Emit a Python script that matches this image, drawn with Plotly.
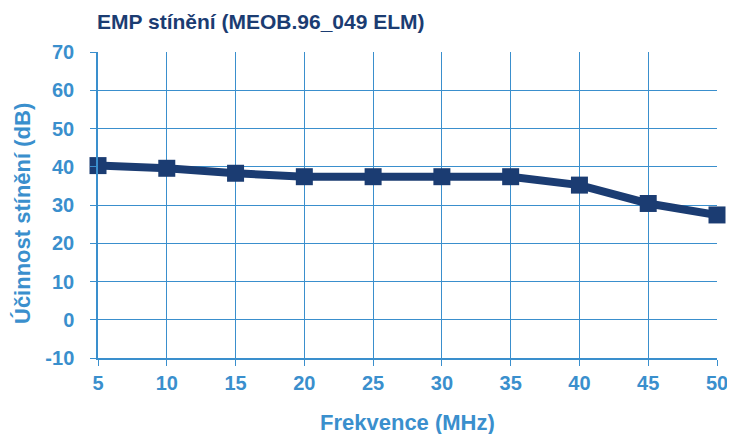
import plotly.graph_objects as go

frequency_mhz = [5, 10, 15, 20, 25, 30, 35, 40, 45, 50]
shielding_db = [40.3, 39.6, 38.3, 37.4, 37.4, 37.4, 37.4, 35.2, 30.4, 27.4]

x_ticks = [5, 10, 15, 20, 25, 30, 35, 40, 45, 50]
y_ticks = [-10, 0, 10, 20, 30, 40, 50, 60, 70]

navy = '#1b3c72'
light_blue = '#3a8fcd'
font_family = '"Liberation Sans", Arial, sans-serif'

# the page body has an 8px margin, so the figure is drawn 8px smaller
fig_w, fig_h = 727, 426
plot_h = 306

fig = go.Figure()
fig.add_trace(go.Scatter(
    x=frequency_mhz, y=shielding_db,
    mode='lines+markers',
    line=dict(color=navy, width=8),
    marker=dict(symbol='square', size=17, color=navy),
    cliponaxis=False,
    showlegend=False
))

fig.update_layout(
    width=fig_w, height=fig_h,
    margin=dict(l=90, r=18, t=44, b=76, autoexpand=False),
    paper_bgcolor='white',
    plot_bgcolor='white',
    font=dict(family=font_family, color=light_blue),
    title=dict(text='<b>EMP stínění (MEOB.96_049 ELM)</b>', x=89 / fig_w, xanchor='left',
               y=1 - 14 / fig_h, yanchor='middle',
               font=dict(size=21, color=navy, family=font_family)),
    annotations=[
        dict(text='<b>Frekvence (MHz)</b>', xref='paper', yref='paper',
             x=0.5, y=-64 / plot_h, xanchor='center', yanchor='middle', showarrow=False,
             font=dict(size=22, color=light_blue)),
        dict(text='<b>Účinnost stínění (dB)</b>', xref='paper', yref='paper',
             x=-76 / 619, y=(358 - 214) / plot_h, xanchor='center', yanchor='middle', showarrow=False,
             textangle=-90, font=dict(size=22, color=light_blue)),
    ],
)

fig.update_xaxes(
    range=[5, 50], tickmode='array', tickvals=x_ticks,
    ticktext=[f'<b>{v}</b>' for v in x_ticks],
    tickfont=dict(size=20, color=light_blue),
    showgrid=True, gridcolor=light_blue, gridwidth=1.2,
    showline=True, linecolor=light_blue, linewidth=1.5,
    ticks='outside', ticklen=6, tickcolor=light_blue, tickwidth=1.3,
    zeroline=False, automargin=False,
)
fig.update_yaxes(
    range=[-10, 70], tickmode='array', tickvals=y_ticks,
    ticktext=[f'<b>{v}</b>' for v in y_ticks],
    tickfont=dict(size=20, color=light_blue),
    showgrid=True, gridcolor=light_blue, gridwidth=1.2,
    showline=True, linecolor=light_blue, linewidth=1.5,
    ticks='outside', ticklen=6, tickcolor=light_blue, tickwidth=1.3,
    ticklabelstandoff=12,
    zeroline=False, automargin=False,
)

fig.write_html("out.html")
